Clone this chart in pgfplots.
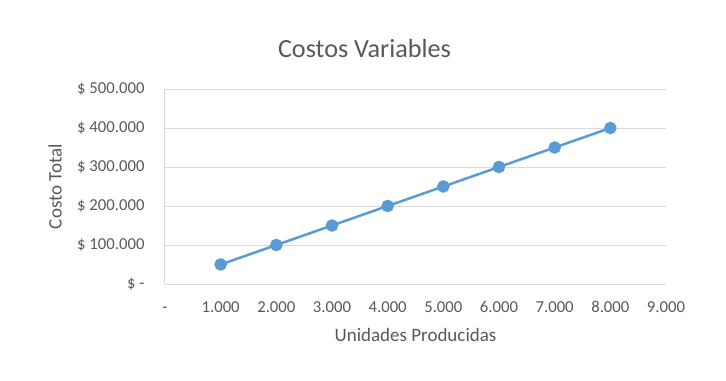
\documentclass[border=0pt]{standalone}
\usepackage{fontspec}
\setmainfont{Carlito}
\usepackage{pgfplots}
\pgfplotsset{compat=1.18}
\definecolor{txt}{HTML}{595959}
\definecolor{ser}{HTML}{5B9BD5}
\definecolor{grd}{HTML}{D9D9D9}
\begin{document}
\begin{tikzpicture}
\path[use as bounding box] (-165bp,-97bp) rectangle (561bp,284bp);
\begin{axis}[
  scale only axis,
  width=501bp, height=195bp,
  xmin=0, xmax=9000, ymin=0, ymax=500000,
  axis lines=left,
  axis line style={-, color=grd, line width=1bp},
  major tick length=0pt,
  ymajorgrids,
  grid style={color=grd, line width=1bp},
  xtick={0,1000,2000,3000,4000,5000,6000,7000,8000,9000},
  xticklabels={-\hspace{6bp},1.000,2.000,3.000,4.000,5.000,6.000,7.000,8.000,9.000},
  ytick={0,100000,200000,300000,400000,500000},
  yticklabels={\$ -\hspace{7bp},\$ 100.000,\$ 200.000,\$ 300.000,\$ 400.000,\$ 500.000},
  scaled ticks=false,
  /pgf/number format/assume math mode=true,
  tick label style={font=\fontsize{16.7bp}{19bp}\selectfont, text=txt},
  xticklabel style={anchor=base, yshift=-28.5bp},
  yticklabel style={anchor=east, xshift=-17bp},
  clip=false,
]
\addplot[color=ser, line width=2.5bp, mark=*, mark size=5bp, mark options={fill=ser, draw=ser}]
  coordinates {(1000,50000) (2000,100000) (3000,150000) (4000,200000) (5000,250000) (6000,300000) (7000,350000) (8000,400000)};
\end{axis}
\node[text=txt, font=\fontsize{26.2bp}{30bp}\selectfont] at (199.5bp,235bp) {Costos Variables};
\node[text=txt, font=\fontsize{19bp}{22bp}\selectfont] at (250.5bp,-51bp) {Unidades Producidas};
\node[text=txt, font=\fontsize{19bp}{22bp}\selectfont, rotate=90] at (-110bp,97.5bp) {Costo Total};
\end{tikzpicture}
\end{document}
